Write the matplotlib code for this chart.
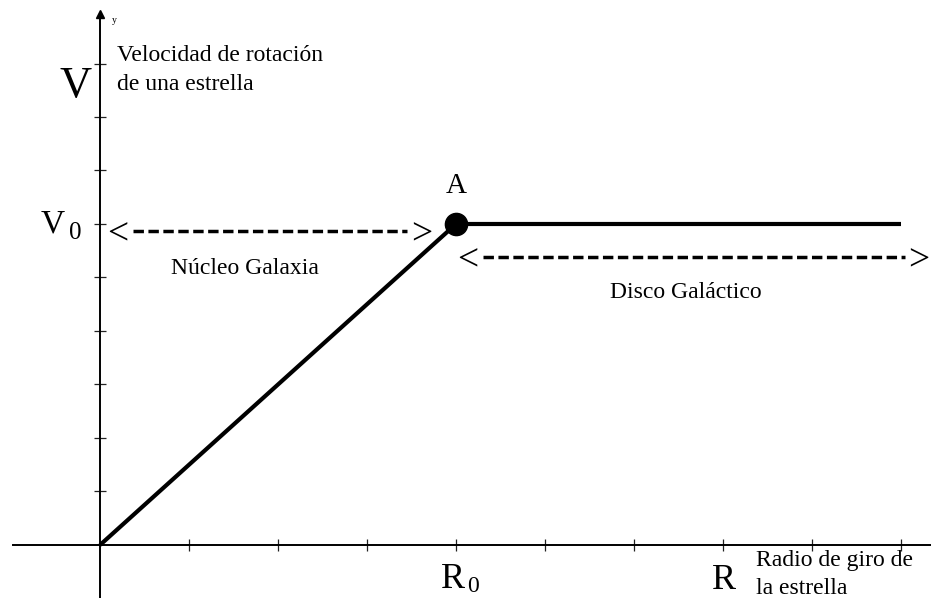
import numpy as np
import matplotlib.pyplot as plt

# Curva de rotación: núcleo (sólido rígido) y disco (velocidad constante)
radio = [0, 4, 9]
velocidad = [0, 6, 6]
punto_r, punto_v = 4, 6

# Flechas discontinuas de las regiones: (inicio, fin, altura)
nucleo = (0.37, 3.45, 5.87)
disco = (4.30, 9.04, 5.38)

xticks = list(range(1, 10))
yticks = list(range(1, 10))

plt.rcParams['font.family'] = ['Liberation Serif', 'DejaVu Serif']

fig = plt.figure(figsize=(9.31, 5.98), dpi=100)
ax = fig.add_axes([0, 0, 1, 1])
ax.set_xlim(-1.124, 9.337)
ax.set_ylim(-0.991, 10.187)

# Ejes cartesianos cruzando en el origen
for s in ['top', 'right']:
    ax.spines[s].set_visible(False)
ax.spines['left'].set_position(('data', 0))
ax.spines['bottom'].set_position(('data', 0))
ax.spines['left'].set_bounds(-1.0, 9.95)
ax.spines['bottom'].set_bounds(-0.98, 9.4)
for s in ['left', 'bottom']:
    ax.spines[s].set_linewidth(1.4)
ax.set_xticks(xticks)
ax.set_yticks(yticks)
ax.tick_params(direction='inout', length=8, width=0.9, color='#222222',
               labelbottom=False, labelleft=False)
ax.plot(0, 9.93, marker='^', color='black', markersize=6, clip_on=False)
ax.text(0.13, 9.8, 'y', fontsize=7, va='center', ha='left')

# Curva y punto A
ax.plot(radio, velocidad, color='black', lw=3, solid_capstyle='butt')
ax.plot(punto_r, punto_v, 'o', color='black', markersize=16)
ax.text(punto_r, 6.58, 'A', fontsize=21, ha='center', va='baseline')

# Flechas de las regiones
for x0, x1, y in [nucleo, disco]:
    ax.plot([x0, x1], [y, y], color='black', lw=2.5,
            linestyle=(0, (3.0, 1.3)))
    ax.text(x0 - 0.05, y, '<', fontsize=27, ha='right', va='center_baseline')
    ax.text(x1 + 0.04, y, '>', fontsize=27, ha='left', va='center_baseline')

ax.text(1.63, 5.07, 'Núcleo Galaxia', fontsize=17, ha='center', va='baseline')
ax.text(6.58, 4.62, 'Disco Galáctico', fontsize=17, ha='center', va='baseline')

# Etiquetas de los ejes
ax.text(-0.10, 8.37, 'V', fontsize=32, ha='right', va='baseline')
ax.text(0.19, 9.05, 'Velocidad de rotación', fontsize=17, ha='left', va='baseline')
ax.text(0.19, 8.51, 'de una estrella', fontsize=17, ha='left', va='baseline')

ax.text(-0.393, 5.85, 'V', fontsize=24, ha='right', va='baseline')
ax.text(-0.348, 5.72, '0', fontsize=18, ha='left', va='baseline')

ax.text(3.83, -0.80, 'R', fontsize=26, ha='left', va='baseline')
ax.text(4.12, -0.87, '0', fontsize=17, ha='left', va='baseline')

ax.text(7.01, -0.82, 'R', fontsize=26, ha='center', va='baseline')
ax.text(7.37, -0.39, 'Radio de giro de', fontsize=17, ha='left', va='baseline')
ax.text(7.37, -0.91, 'la estrella', fontsize=17, ha='left', va='baseline')

fig.savefig('out.png', dpi=100)
